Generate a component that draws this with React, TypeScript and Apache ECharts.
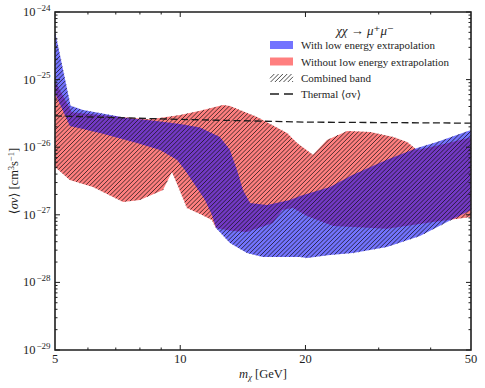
import React, { useEffect, useRef } from 'react';
import * as echarts from 'echarts';

// ---- axis ticks / labels ----
const xTickLabels = [5, 10, 20, 50];
const xMajorTicks = [10, 20];
const xMinorTicks = [6, 7, 8, 9, 30, 40];
const yDecades = [-29, -28, -27, -26, -25, -24];
const yMinorFactors = [2, 3, 4, 5, 6, 7, 8, 9];
const xMin = 5;
const xMax = 50;
const yMin = 1e-29;
const yMax = 1e-24;

// ---- bands: [mass GeV, <sigma v>] ----
const blueUpper: [number, number][] = [
  [5.0, 5.2e-25], [5.45, 4.1e-26], [5.84, 3.55e-26], [7.45, 2.7e-26], [8.46, 2.5e-26],
  [10.0, 2.2e-26], [11.16, 1.95e-26], [12.46, 1.42e-26], [13.17, 9.1e-27], [13.69, 4.6e-27],
  [14.15, 2.33e-27], [14.72, 1.5e-27], [16.16, 1.4e-27], [18.36, 1.66e-27], [19.4, 1.9e-27],
  [22.9, 2.58e-27], [26.0, 3.9e-27], [31.4, 6.5e-27], [37.1, 9.7e-27], [41.4, 1.19e-26],
  [50, 1.8e-26],
];
const blueLower: [number, number][] = [
  [5.0, 6.3e-26], [5.43, 2.06e-26], [6.41, 1.62e-26], [7.87, 1.15e-26], [8.94, 9.1e-27],
  [9.82, 6.5e-27], [10.26, 4.6e-27], [10.85, 2.76e-27], [11.47, 1.66e-27], [11.92, 9.9e-28],
  [12.19, 6.4e-28], [13.17, 3.83e-28], [14.47, 2.72e-28], [15.81, 2.38e-28], [19.4, 2.38e-28],
  [20.17, 2.3e-28], [22.9, 2.54e-28], [26.0, 2.72e-28], [31.4, 3.34e-28], [37.7, 4.86e-28],
  [43.8, 7.8e-28], [50, 1.18e-27],
];
const redUpper: [number, number][] = [
  [5.0, 9.5e-26], [5.49, 3.3e-26], [6.41, 3.0e-26], [7.45, 2.75e-26], [8.46, 2.6e-26],
  [9.09, 2.75e-26], [10.0, 3.0e-26], [11.16, 3.45e-26], [12.67, 4.2e-26], [13.17, 4.07e-26],
  [15.3, 2.8e-26], [18.06, 1.62e-26], [19.09, 1.15e-26], [20.85, 7.7e-27], [22.53, 1.28e-26],
  [25.2, 1.74e-26], [28.6, 1.68e-26], [32.5, 1.42e-26], [35.1, 1.19e-26], [37.1, 9.1e-27],
  [42.1, 1.08e-26], [50, 1.4e-26],
];
const redLower: [number, number][] = [
  [5.0, 5.1e-27], [5.43, 3.27e-27], [6.17, 2.58e-27], [7.29, 1.55e-27], [8.0, 1.66e-27],
  [9.09, 2.33e-27], [9.55, 4.3e-27], [9.77, 3.1e-27], [10.38, 1.26e-27], [11.16, 1.03e-27],
  [11.92, 8.4e-28], [12.19, 6.4e-28], [13.17, 5.8e-28], [14.47, 5.57e-28], [16.71, 7.56e-28],
  [17.6, 1.18e-27], [18.67, 1.26e-27], [20.17, 9.6e-28], [23.3, 6.8e-28], [31.4, 6.2e-28],
  [40.6, 7.8e-28], [50, 9.3e-28],
];
const thermal: [number, number][] = [
  [5, 2.9e-26], [10, 2.58e-26], [20, 2.35e-26], [50, 2.27e-26],
];

const legendTitle = 'χχ → μ⁺μ⁻';
const legendLabels = [
  'With low energy extrapolation',
  'Without low energy extrapolation',
  'Combined band',
  'Thermal ⟨σv⟩',
];

const FONT = "'Liberation Serif', 'DejaVu Serif', serif";
const BLUE = 'rgba(0,0,255,0.55)';
const RED = 'rgba(255,0,0,0.5)';
const INK = '#1e1e1e';
const HATCH = 'rgba(20,20,20,0.85)';
const HATCH_SPACING = 4.3;

type Pt = number[];

function hatchSegments(polys: Pt[][], spacing: number): number[][] {
  let cmin = Infinity;
  let cmax = -Infinity;
  polys.forEach((p) =>
    p.forEach(([x, y]) => {
      const c = x + y;
      if (c < cmin) cmin = c;
      if (c > cmax) cmax = c;
    })
  );
  const segs: number[][] = [];
  const start = Math.ceil(cmin / spacing) * spacing;
  for (let c = start; c <= cmax; c += spacing) {
    const intervals: number[][] = [];
    for (const p of polys) {
      const xs: number[] = [];
      for (let i = 0; i < p.length; i++) {
        const [x1, y1] = p[i];
        const [x2, y2] = p[(i + 1) % p.length];
        const f1 = x1 + y1 - c;
        const f2 = x2 + y2 - c;
        if (f1 < 0 !== f2 < 0) {
          const t = f1 / (f1 - f2);
          xs.push(x1 + t * (x2 - x1));
        }
      }
      xs.sort((a, b) => a - b);
      for (let i = 0; i + 1 < xs.length; i += 2) intervals.push([xs[i], xs[i + 1]]);
    }
    intervals.sort((a, b) => a[0] - b[0]);
    const merged: number[][] = [];
    for (const iv of intervals) {
      const last = merged[merged.length - 1];
      if (last && iv[0] <= last[1]) last[1] = Math.max(last[1], iv[1]);
      else merged.push([iv[0], iv[1]]);
    }
    for (const [a, b] of merged) segs.push([a, c - a, b, c - b]);
  }
  return segs;
}

function bandPolygon(api: any, upper: [number, number][], lower: [number, number][]): Pt[] {
  return upper.map((p) => api.coord(p)).concat(lower.slice().reverse().map((p) => api.coord(p)));
}

function bandSeries(name: string, upper: [number, number][], lower: [number, number][], color: string, z: number) {
  return {
    type: 'custom',
    name,
    coordinateSystem: 'cartesian2d',
    z,
    silent: true,
    data: upper.map((p) => [p[0], p[1]]),
    encode: { x: 0, y: 1 },
    renderItem: (params: any, api: any) => {
      if (params.dataIndex !== 0) return null;
      return {
        type: 'polygon',
        shape: { points: bandPolygon(api, upper, lower) },
        style: { fill: color, stroke: 'none' },
      };
    },
  };
}

function buildOption() {
  const rowY = [45, 61.5, 78, 94];
  const swX = 270;
  const swW = 23;
  const swH = 8;
  const legendHatch = hatchSegments(
    [[[swX, rowY[2] - swH / 2], [swX + swW, rowY[2] - swH / 2], [swX + swW, rowY[2] + swH / 2], [swX, rowY[2] + swH / 2]]],
    HATCH_SPACING
  );

  const graphic: any[] = [
    {
      type: 'text',
      x: 365,
      y: 30,
      style: { text: legendTitle, font: `italic 13px ${FONT}`, fill: INK, textAlign: 'center', textVerticalAlign: 'middle' },
    },
    { type: 'rect', shape: { x: swX, y: rowY[0] - swH / 2, width: swW, height: swH }, style: { fill: BLUE } },
    { type: 'rect', shape: { x: swX, y: rowY[1] - swH / 2, width: swW, height: swH }, style: { fill: RED } },
    ...legendHatch.map((s) => ({
      type: 'line',
      shape: { x1: s[0], y1: s[1], x2: s[2], y2: s[3] },
      style: { stroke: HATCH, lineWidth: 0.9 },
    })),
    {
      type: 'line',
      shape: { x1: swX, y1: rowY[3], x2: swX + swW, y2: rowY[3] },
      style: { stroke: INK, lineWidth: 1.3, lineDash: [9, 5] },
    },
    ...legendLabels.map((t, i) => ({
      type: 'text',
      x: 301,
      y: rowY[i],
      style: { text: t, font: `11px ${FONT}`, fill: INK, textAlign: 'left', textVerticalAlign: 'middle' },
    })),
    // axis titles
    {
      type: 'text',
      x: 263,
      y: 373.5,
      style: {
        text: '{i|m}{sub|χ} [GeV]',
        font: `12.5px ${FONT}`,
        fill: INK,
        textAlign: 'center',
        textVerticalAlign: 'middle',
        rich: {
          i: { fontFamily: FONT, fontStyle: 'italic', fontSize: 12.5, fill: INK },
          sub: { fontFamily: FONT, fontStyle: 'italic', fontSize: 8.5, fill: INK, padding: [6, 0, 0, 0] },
        },
      },
    },
    {
      type: 'text',
      x: 14,
      y: 181,
      rotation: Math.PI / 2,
      style: {
        text: '⟨{i|σv}⟩ [cm{s|3}s{s|−1}]',
        font: `12.5px ${FONT}`,
        fill: INK,
        textAlign: 'center',
        textVerticalAlign: 'middle',
        rich: {
          i: { fontFamily: FONT, fontStyle: 'italic', fontSize: 12.5, fill: INK },
          s: { fontFamily: FONT, fontSize: 8.5, fill: INK, padding: [0, 0, 7, 0] },
        },
      },
    },
  ];

  return {
    animation: false,
    backgroundColor: '#ffffff',
    grid: { left: 55, right: 14, top: 12, bottom: 38, containLabel: false, outerBoundsMode: 'none' },
    xAxis: {
      type: 'log',
      logBase: 10,
      min: xMin,
      max: xMax,
      axisLine: { show: false },
      axisTick: { show: false },
      axisLabel: { show: false },
      splitLine: { show: false },
    },
    yAxis: {
      type: 'log',
      logBase: 10,
      min: yMin,
      max: yMax,
      splitNumber: 5,
      axisLine: { show: false },
      axisTick: { show: false },
      axisLabel: { show: false },
      splitLine: { show: false },
    },
    graphic,
    series: [
      bandSeries('Without low energy extrapolation', redUpper, redLower, RED, 2),
      bandSeries('With low energy extrapolation', blueUpper, blueLower, BLUE, 3),
      {
        type: 'custom',
        name: 'Combined band',
        coordinateSystem: 'cartesian2d',
        z: 4,
        silent: true,
        data: [[xMin, yMin]],
        encode: { x: 0, y: 1 },
        renderItem: (params: any, api: any) => {
          if (params.dataIndex !== 0) return null;
          const polys = [bandPolygon(api, redUpper, redLower), bandPolygon(api, blueUpper, blueLower)];
          const segs = hatchSegments(polys, HATCH_SPACING);
          return {
            type: 'group',
            children: segs.map((s) => ({
              type: 'line',
              shape: { x1: s[0], y1: s[1], x2: s[2], y2: s[3] },
              style: { stroke: HATCH, lineWidth: 0.9 },
            })),
          };
        },
      },
      {
        type: 'line',
        name: 'Thermal',
        data: thermal,
        symbol: 'none',
        showSymbol: false,
        silent: true,
        z: 5,
        lineStyle: { color: INK, width: 1.3, type: [7, 3.5] },
      },
      {
        type: 'custom',
        name: 'frame',
        coordinateSystem: 'cartesian2d',
        z: 6,
        silent: true,
        data: [[xMin, yMin]],
        encode: { x: 0, y: 1 },
        renderItem: (params: any, api: any) => {
          if (params.dataIndex !== 0) return null;
          const cs = params.coordSys;
          const left = cs.x;
          const top = cs.y;
          const right = cs.x + cs.width;
          const bottom = cs.y + cs.height;
          const children: any[] = [];
          const tickStyle = { stroke: INK, lineWidth: 1 };
          const addX = (v: number, len: number) => {
            const px = api.coord([v, yMin])[0];
            children.push({ type: 'line', shape: { x1: px, y1: bottom, x2: px, y2: bottom - len }, style: tickStyle });
            children.push({ type: 'line', shape: { x1: px, y1: top, x2: px, y2: top + len }, style: tickStyle });
          };
          const addY = (v: number, len: number) => {
            const py = api.coord([xMin, v])[1];
            children.push({ type: 'line', shape: { x1: left, y1: py, x2: left + len, y2: py }, style: tickStyle });
            children.push({ type: 'line', shape: { x1: right, y1: py, x2: right - len, y2: py }, style: tickStyle });
          };
          xMajorTicks.forEach((v) => addX(v, 5));
          xMinorTicks.forEach((v) => addX(v, 2.5));
          yDecades.forEach((d) => addY(Math.pow(10, d), 5));
          yDecades.slice(0, -1).forEach((d) => yMinorFactors.forEach((f) => addY(f * Math.pow(10, d), 2.5)));
          xTickLabels.forEach((v) => {
            const px = api.coord([v, yMin])[0];
            children.push({
              type: 'text',
              x: px,
              y: bottom + 2,
              style: {
                text: String(v),
                font: `12.5px ${FONT}`,
                fill: INK,
                align: 'center',
                verticalAlign: 'top',
                textAlign: 'center',
                textVerticalAlign: 'top',
              },
            });
          });
          yDecades.forEach((d) => {
            const py = api.coord([xMin, Math.pow(10, d)])[1];
            children.push({
              type: 'text',
              x: left - 32,
              y: py,
              style: {
                text: '10',
                font: `12.5px ${FONT}`,
                fill: INK,
                align: 'left',
                verticalAlign: 'middle',
                textAlign: 'left',
                textVerticalAlign: 'middle',
              },
            });
            children.push({
              type: 'text',
              x: left - 18.5,
              y: py - 4.5,
              style: {
                text: '−' + String(Math.abs(d)),
                font: `9px ${FONT}`,
                fill: INK,
                align: 'left',
                verticalAlign: 'middle',
                textAlign: 'left',
                textVerticalAlign: 'middle',
              },
            });
          });
          children.push({
            type: 'rect',
            shape: { x: left, y: top, width: right - left, height: bottom - top },
            style: { fill: 'none', stroke: INK, lineWidth: 1.6 },
          });
          return { type: 'group', children };
        },
      },
    ],
  };
}

export default function App() {
  const ref = useRef<HTMLDivElement>(null);
  useEffect(() => {
    document.body.style.margin = '0';
    const chart = echarts.init(ref.current!, null, { renderer: 'svg' });
    chart.setOption(buildOption() as any);
    return () => chart.dispose();
  }, []);
  return <div ref={ref} style={{ width: 485, height: 388 }} />;
}
